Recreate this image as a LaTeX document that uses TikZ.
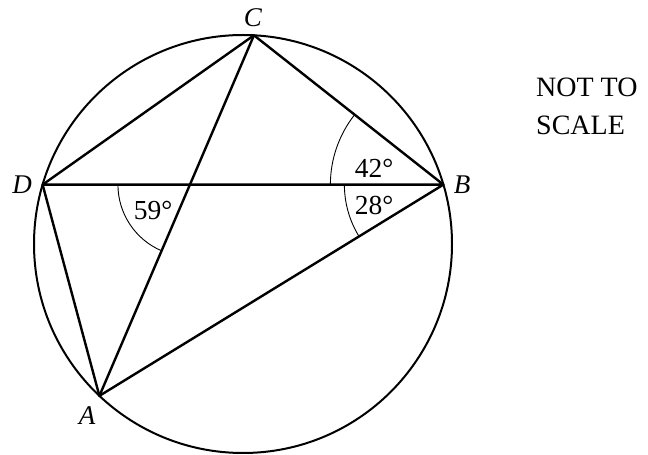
\documentclass[tikz,border=0pt]{standalone}
\usepackage{fontspec}
\setmainfont{Liberation Serif}
\usetikzlibrary{angles,calc}
\begin{document}
\begin{tikzpicture}[x=1pt,y=1pt,
  thickline/.style={line width=2.4pt, line join=round, line cap=round},
  circ/.style={line width=2pt},
  anglearc/.style={draw, line width=0.9pt},
  ptlabel/.style={inner sep=0pt, font=\fontsize{27}{32}\selectfont\itshape},
  anglabel/.style={inner sep=0pt, font=\fontsize{27.5}{32}\selectfont},
  notelabel/.style={inner sep=0pt, anchor=base west, font=\fontsize{28}{33}\selectfont}]
\useasboundingbox (0,0) rectangle (648,455);
\coordinate (O) at (243,211);
\coordinate (C) at ($(O)+(87:209)$);
\coordinate (B) at ($(O)+(16.5:209)$);
\coordinate (D) at ($(O)+(163.5:209)$);
\coordinate (A) at ($(O)+(226.6:209)$);
\draw[circ] (O) circle (209);
\draw[thickline] (D) -- (C) -- (B) -- (A) -- (D) -- (B);
\draw[thickline] (C) -- (A);
\coordinate (X) at (intersection of C--A and D--B);
\pic[anglearc, angle radius=113] {angle = C--B--D};
\pic[anglearc, angle radius=99] {angle = D--B--A};
\pic[anglearc, angle radius=72] {angle = D--X--A};
\node[anglabel] (l42) at (374,287) {42°};
\node[anglabel] (l28) at (374,250) {28°};
\node[anglabel] (l59) at (153,245) {59°};
\node[ptlabel] (lC) at (253,437) {C};
\node[ptlabel] (lD) at (22,270) {D};
\node[ptlabel] (lB) at (462,270) {B};
\node[ptlabel] (lA) at (87,39) {A};
\node[notelabel] (n1) at (536,358) {NOT TO};
\node[notelabel] (n2) at (536,320) {SCALE};
\end{tikzpicture}
\end{document}
